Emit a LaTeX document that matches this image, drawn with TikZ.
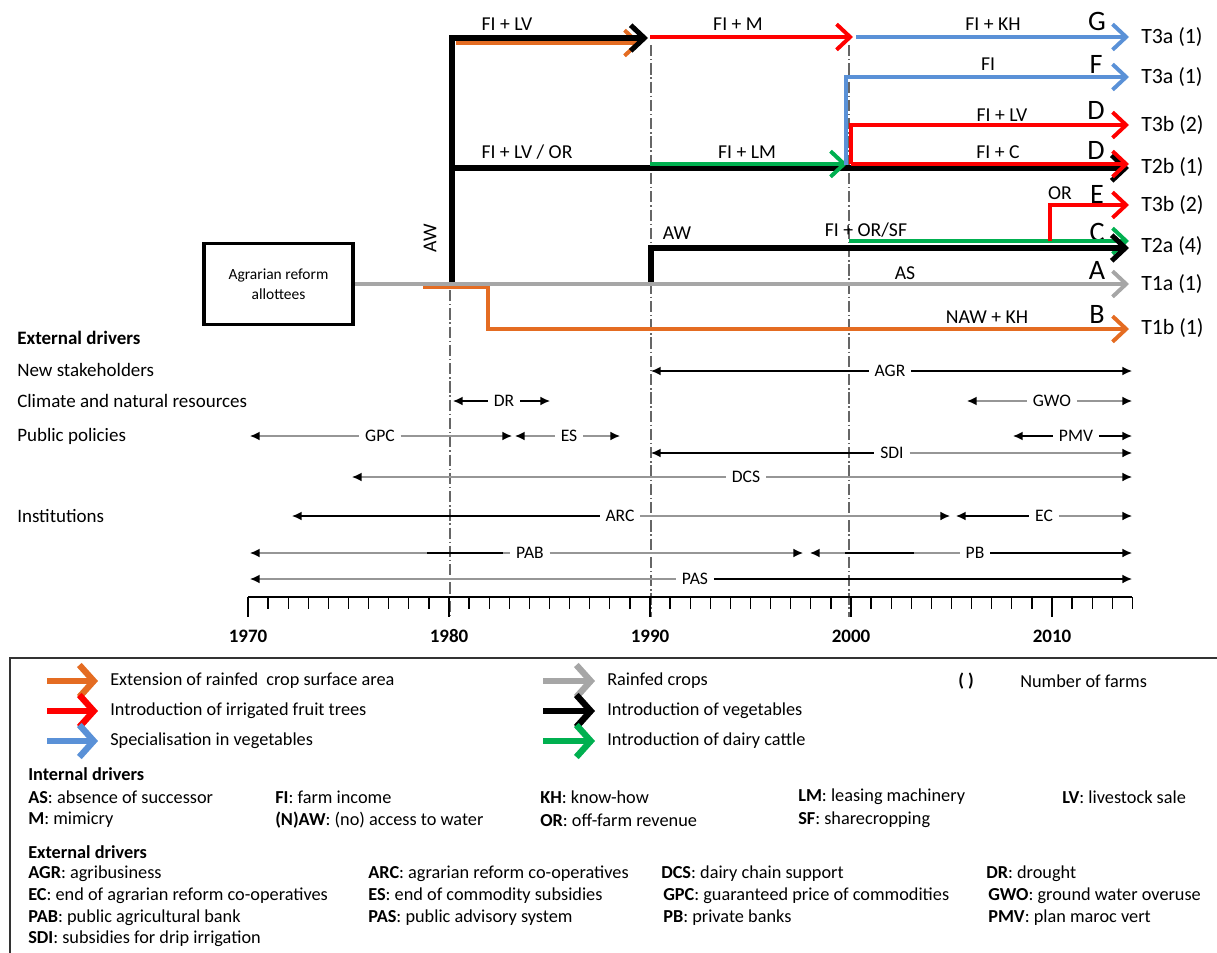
\documentclass[tikz,border=0pt]{standalone}
\usepackage{fontspec}
\setmainfont{Carlito}
\usepackage{xcolor}
\usepackage{tikz}
\usetikzlibrary{arrows.meta, positioning, calc}

\definecolor{cOrange}{RGB}{228,108,34}
\definecolor{cRed}{RGB}{255,0,0}
\definecolor{cBlue}{RGB}{90,145,215}
\definecolor{cGreen}{RGB}{0,176,80}
\definecolor{cGray}{RGB}{166,166,166}
\definecolor{cDrv}{RGB}{150,150,150}

\begin{document}
\begin{tikzpicture}[x=0.025cm, y=-0.025cm, font=\fontsize{13}{15}\selectfont, >=Latex]

    % Define styles
    \tikzstyle{flow} = [line width=2.8pt, -{Straight Barb[length=3.4mm,width=6.4mm]}]
    \tikzstyle{flowk} = [flow, line width=3.6pt, black]
    \tikzstyle{chartlab} = [inner sep=1pt, font=\fontsize{14}{16}\selectfont]
    \tikzstyle{bigl} = [inner sep=0pt, font=\fontsize{20}{22}\selectfont]
    \tikzstyle{tlab} = [anchor=west, inner sep=0pt, font=\fontsize{15.5}{17}\selectfont]
    \tikzstyle{allotbox} = [rectangle, draw=black, line width=2.6pt, minimum width=3.72cm, minimum height=2.02cm, align=center, font=\fontsize{11}{14}\selectfont]
    \tikzstyle{drvlab} = [inner sep=4pt, font=\fontsize{12.5}{15}\selectfont]
    \tikzstyle{drvk} = [line width=1pt, black, >={Latex[length=2.4mm,width=2.2mm]}]
    \tikzstyle{drvg} = [line width=1pt, cDrv, >={Latex[length=2.4mm,width=2.2mm,color=black]}]
    \tikzstyle{rowlab} = [anchor=west, inner sep=0pt, font=\fontsize{13.5}{16}\selectfont]
    \tikzstyle{yearline} = [line width=0.8pt, gray!80!black, dash pattern=on 8pt off 2pt on 1pt off 2pt]
    \tikzstyle{legarrow} = [line width=4.5pt, -{Straight Barb[length=3.6mm,width=8mm]}, shorten >=3mm]
    \tikzstyle{legtext} = [anchor=west, inner sep=0pt]

    \useasboundingbox (0,0) rectangle (1217,953);

    % Year guide lines
    \coordinate (g80a) at (450,290);  \coordinate (g80b) at (450,617);
    \coordinate (g90a) at (651,45);   \coordinate (g90b) at (651,617);
    \coordinate (g00a) at (849,45);   \coordinate (g00b) at (849,617);
    \draw[yearline] (g80a) -- (g80b);
    \draw[yearline] (g90a) -- (g90b);
    \draw[yearline] (g00a) -- (g00b);

    % Nodes
    \node (allot) [allotbox] at (278.5,284) {Agrarian reform\\allottees};
    \node (tG)  [tlab] at (1141,37)  {T3a (1)};
    \node (tF)  [tlab] at (1141,77)  {T3a (1)};
    \node (tD1) [tlab] at (1141,125) {T3b (2)};
    \node (tD2) [tlab] at (1141,167) {T2b (1)};
    \node (tE)  [tlab] at (1141,205) {T3b (2)};
    \node (tC)  [tlab] at (1141,246) {T2a (4)};
    \node (tA)  [tlab] at (1141,284) {T1a (1)};
    \node (tB)  [tlab] at (1141,328) {T1b (1)};

    \node (lG)  [bigl] at (1097,21)  {G};
    \node (lF)  [bigl] at (1096,64)  {F};
    \node (lD1) [bigl] at (1096,110) {D};
    \node (lD2) [bigl] at (1096,150) {D};
    \node (lE)  [bigl] at (1097,194) {E};
    \node (lC)  [bigl] at (1097,232) {C};
    \node (lA)  [bigl] at (1097,270) {A};
    \node (lB)  [bigl] at (1097,314) {B};

    \node (fiLV)   [chartlab] at (507,24)  {FI + LV};
    \node (fiM)    [chartlab] at (738,24)  {FI + M};
    \node (fiKH)   [chartlab] at (993,24)  {FI + KH};
    \node (fiF)    [chartlab] at (988,64)  {FI};
    \node (fiLVd)  [chartlab] at (1002,115) {FI + LV};
    \node (fiLVOR) [chartlab] at (527,152) {FI + LV / OR};
    \node (fiLM)   [chartlab] at (747,152) {FI + LM};
    \node (fiC)    [chartlab] at (998,152) {FI + C};
    \node (orE)    [chartlab] at (1060,193) {OR};
    \node (aw90)   [chartlab] at (677,233) {AW};
    \node (fiORSF) [chartlab] at (866,230) {FI + OR/SF};
    \node (asA)    [chartlab] at (905,273) {AS};
    \node (nawKH)  [chartlab] at (987,317) {NAW + KH};
    \node (aw80)   [chartlab, rotate=90] at (430,238) {AW};

    % Path points
    \coordinate (eG) at (1129,37);   \coordinate (eF) at (1129,77);
    \coordinate (eD1) at (1129,125); \coordinate (eD2) at (1129,164);
    \coordinate (eD2k) at (1129,168); \coordinate (eE) at (1129,205);
    \coordinate (eCg) at (1129,241); \coordinate (eC) at (1129,248);
    \coordinate (eA) at (1129,284);  \coordinate (eB) at (1129,329);
    \coordinate (j80) at (452,283);  \coordinate (j80top) at (648,38);
    \coordinate (j80mid) at (452,168);
    \coordinate (oTopS) at (456,43); \coordinate (oTopE) at (641,43);
    \coordinate (j90top) at (650,37); \coordinate (j90end) at (853,37);
    \coordinate (j00top) at (856,37);
    \coordinate (j90mid) at (650,164); \coordinate (j00mid) at (847,164);
    \coordinate (j00F) at (846,165);  \coordinate (j00D) at (851,164);
    \coordinate (j90low) at (651,283); \coordinate (j00low) at (849,241);
    \coordinate (jE) at (1050,241);
    \coordinate (o1) at (423,287);   \coordinate (o2) at (488,287);

    % Arrows
    \draw [flow, cOrange] (o1) -- (o2) |- (eB);
    \draw [flow, cOrange] (oTopS) -- (oTopE);
    \draw [flowk] (j80) |- (j80top);
    \draw [flowk] (j80mid) -- (eD2k);
    \draw [flow, cRed] (j90top) -- (j90end);
    \draw [flow, cBlue] (j00top) -- (eG);
    \draw [flow, cGreen] (j90mid) -- (j00mid);
    \draw [flow, cBlue] (j00F) |- (eF);
    \draw [flow, cRed] (j00D) |- (eD1);
    \draw [flow, cRed] (j00D) -- (eD2);
    \draw [flow, cGreen] (j00low) -- (eCg);
    \draw [flowk] (j90low) |- (eC);
    \draw [flow, cRed] (jE) |- (eE);
    \draw [flow, cGray] (allot) -- (eA);

    % External drivers
    \node (rExt)  [rowlab, font=\fontsize{13.5}{16}\selectfont\bfseries] at (17,338) {External drivers};
    \node (rNew)  [rowlab] at (17,370) {New stakeholders};
    \node (rClim) [rowlab] at (17,401) {Climate and natural resources};
    \node (rPub)  [rowlab] at (17,436) {Public policies};
    \node (rInst) [rowlab] at (17,516) {Institutions};

    \node (agr) [drvlab] at (890,371) {AGR};
    \coordinate (agrL) at (651,371); \coordinate (agrR) at (1132,371);
    \draw [drvk, <-] (agrL) -- (agr);  \draw [drvk, ->] (agr) -- (agrR);

    \node (dr) [drvlab] at (504,401) {DR};
    \coordinate (drL) at (453,401); \coordinate (drR) at (550,401);
    \draw [drvk, <-] (drL) -- (dr);  \draw [drvk, ->] (dr) -- (drR);

    \node (gwo) [drvlab] at (1052,401) {GWO};
    \coordinate (gwoL) at (967,401); \coordinate (gwoR) at (1132,401);
    \draw [drvg, <-] (gwoL) -- (gwo);  \draw [drvg, ->] (gwo) -- (gwoR);

    \node (gpc) [drvlab] at (380,436) {GPC};
    \coordinate (gpcL) at (250,436); \coordinate (gpcR) at (512,436);
    \draw [drvg, <-] (gpcL) -- (gpc);  \draw [drvg, ->] (gpc) -- (gpcR);

    \node (es) [drvlab] at (569,436) {ES};
    \coordinate (esL) at (515,436); \coordinate (esR) at (620,436);
    \draw [drvg, <-] (esL) -- (es);  \draw [drvg, ->] (es) -- (esR);

    \node (pmv) [drvlab] at (1076,436) {PMV};
    \coordinate (pmvL) at (1013,436); \coordinate (pmvR) at (1132,436);
    \draw [drvk, <-] (pmvL) -- (pmv);  \draw [drvk, ->] (pmv) -- (pmvR);

    \node (sdi) [drvlab] at (892,453) {SDI};
    \coordinate (sdiL) at (651,453); \coordinate (sdiR) at (1132,453);
    \draw [drvk, <-] (sdiL) -- (sdi);  \draw [drvg, ->] (sdi) -- (sdiR);

    \node (dcs) [drvlab] at (746,477) {DCS};
    \coordinate (dcsL) at (352,477); \coordinate (dcsR) at (1132,477);
    \draw [drvg, <-] (dcsL) -- (dcs);  \draw [drvg, ->] (dcs) -- (dcsR);

    \node (arc) [drvlab] at (620,516) {ARC};
    \coordinate (arcL) at (292,516); \coordinate (arcR) at (950,516);
    \draw [drvk, <-] (arcL) -- (arc);  \draw [drvg, ->] (arc) -- (arcR);

    \node (ec) [drvlab] at (1044,516) {EC};
    \coordinate (ecL) at (956,516); \coordinate (ecR) at (1132,516);
    \draw [drvk, <-] (ecL) -- (ec);  \draw [drvg, ->] (ec) -- (ecR);

    \node (pab) [drvlab] at (530,553) {PAB};
    \coordinate (pabL) at (250,553); \coordinate (pabR) at (803,553);
    \coordinate (pabK1) at (427,553); \coordinate (pabK2) at (503,553);
    \draw [drvg, <-] (pabL) -- (pab);  \draw [drvg, ->] (pab) -- (pabR);
    \draw [drvk] (pabK1) -- (pabK2);

    \node (pb) [drvlab] at (975,553) {PB};
    \coordinate (pbL) at (810,553); \coordinate (pbR) at (1132,553);
    \coordinate (pbK1) at (845,553); \coordinate (pbK2) at (914,553);
    \draw [drvg, <-] (pbL) -- (pb);  \draw [drvk, ->] (pb) -- (pbR);
    \draw [drvk] (pbK1) -- (pbK2);

    \node (pas) [drvlab] at (695,579) {PAS};
    \coordinate (pasL) at (250,579); \coordinate (pasR) at (1132,579);
    \draw [drvg, <-] (pasL) -- (pas);  \draw [drvk, ->] (pas) -- (pasR);

    % Time axis
    \coordinate (axL) at (248,597); \coordinate (axR) at (1132.4,597);
    \draw [line width=1.2pt] (axL) -- (axR);
    \foreach \yr in {1970,...,2014}
        \draw [line width=0.9pt] ({248+(\yr-1970)*20.1},597) -- ++(0,12);
    \foreach \yr in {1970,1980,...,2010} {
        \draw [line width=0.9pt] ({248+(\yr-1970)*20.1},597) -- ++(0,20);
        \node (y\yr) [font=\fontsize{13.5}{15}\selectfont\bfseries] at ({248+(\yr-1970)*20.1},636) {\yr};
    }

    % Legend
    \draw [line width=1.8pt, black!80] (10,980) -- (10,658) -- (1240,658);

    \node (lgExt) [legtext] at (110,681) {Extension of rainfed\ \ crop surface area};
    \node (lgIrr) [legtext] at (110,711) {Introduction of irrigated fruit trees};
    \node (lgSpe) [legtext] at (110,741) {Specialisation in vegetables};
    \node (lgRf)  [legtext] at (607,681) {Rainfed crops};
    \node (lgVeg) [legtext] at (607,711) {Introduction of vegetables};
    \node (lgDai) [legtext] at (607,741) {Introduction of dairy cattle};
    \node (lgPar) [font=\fontsize{13}{15}\selectfont\bfseries] at (966,681) {( )};
    \node (lgNum) [legtext] at (1020,681) {Number of farms};

    \coordinate (la1) at (47,681);  \coordinate (la2) at (47,711);  \coordinate (la3) at (47,741);
    \coordinate (lb1) at (543,681); \coordinate (lb2) at (543,711); \coordinate (lb3) at (543,741);
    \draw [legarrow, cOrange] (la1) -- (lgExt.west);
    \draw [legarrow, cRed] (la2) -- (lgIrr.west);
    \draw [legarrow, cBlue] (la3) -- (lgSpe.west);
    \draw [legarrow, cGray] (lb1) -- (lgRf.west);
    \draw [legarrow, black] (lb2) -- (lgVeg.west);
    \draw [legarrow, cGreen] (lb3) -- (lgDai.west);

    \node (intT) [legtext, font=\fontsize{13}{15}\selectfont\bfseries] at (28,774) {Internal drivers};
    \node (kAS) [legtext] at (28,797)  {\textbf{AS}: absence of successor};
    \node (kFI) [legtext] at (275,797) {\textbf{FI}: farm income};
    \node (kKH) [legtext] at (540,797) {\textbf{KH}: know-how};
    \node (kLM) [legtext] at (798,797) {\textbf{LM}: leasing machinery};
    \node (kLV) [legtext] at (1062,797) {\textbf{LV}: livestock sale};
    \node (kM)  [legtext] at (28,820)  {\textbf{M}: mimicry};
    \node (kAW) [legtext] at (275,820) {\textbf{(N)AW}: (no) access to water};
    \node (kOR) [legtext] at (540,820) {\textbf{OR}: off-farm revenue};
    \node (kSF) [legtext] at (798,820) {\textbf{SF}: sharecropping};

    \node (extT) [legtext, font=\fontsize{13}{15}\selectfont\bfseries] at (28,852) {External drivers};
    \node (kAGR) [legtext] at (28,874)  {\textbf{AGR}: agribusiness};
    \node (kARC) [legtext] at (368,874) {\textbf{ARC}: agrarian reform co-operatives};
    \node (kDCS) [legtext] at (661,874) {\textbf{DCS}: dairy chain support};
    \node (kDR)  [legtext] at (986,874) {\textbf{DR}: drought};
    \node (kEC)  [legtext] at (28,896)  {\textbf{EC}: end of agrarian reform co-operatives};
    \node (kES)  [legtext] at (368,896) {\textbf{ES}: end of commodity subsidies};
    \node (kGPC) [legtext] at (663,896) {\textbf{GPC}: guaranteed price of commodities};
    \node (kGWO) [legtext] at (988,896) {\textbf{GWO}: ground water overuse};
    \node (kPAB) [legtext] at (28,918)  {\textbf{PAB}: public agricultural bank};
    \node (kPAS) [legtext] at (368,918) {\textbf{PAS}: public advisory system};
    \node (kPB)  [legtext] at (663,918) {\textbf{PB}: private banks};
    \node (kPMV) [legtext] at (988,918) {\textbf{PMV}: plan maroc vert};
    \node (kSDI) [legtext] at (28,939)  {\textbf{SDI}: subsidies for drip irrigation};

\end{tikzpicture}
\end{document}
